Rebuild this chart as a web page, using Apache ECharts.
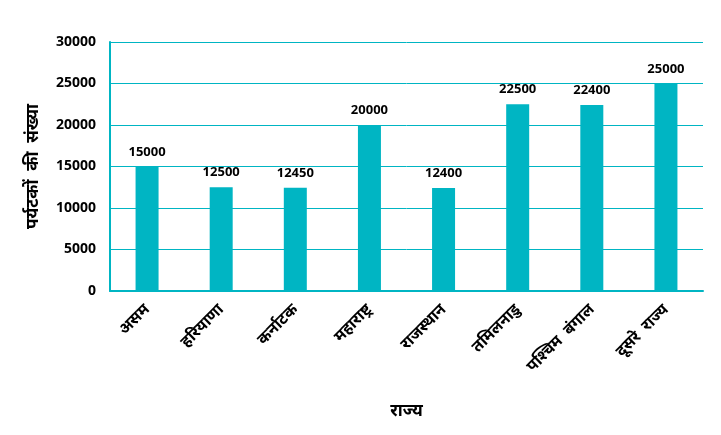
<!DOCTYPE html>
<html><head><meta charset="utf-8">
<script src="https://cdn.jsdelivr.net/npm/echarts@6/dist/echarts.min.js"></script>
<style>html,body{margin:0;padding:0;background:#fff}#c{width:721px;height:435px}</style>
</head><body><div id="c"></div>
<script>
const categories = ['असम','हरियाणा','कर्नाटक','महाराष्ट्र','राजस्थान','तमिलनाडु','पश्चिम  बंगाल','दूसरे  राज्य'];
const values = [15000,12500,12450,20000,12400,22500,22400,25000];
const yTicks = [0,5000,10000,15000,20000,25000,30000];
const teal = '#00B5C3';
const chart = echarts.init(document.getElementById('c'));
chart.setOption({
  animation:false,
  textStyle:{fontFamily:'Noto Sans, sans-serif'},
  grid:{left:110,right:18,top:42,bottom:144,containLabel:false},
  xAxis:{type:'category',data:categories,
    name:'राज्य',nameLocation:'middle',nameGap:112,
    nameTextStyle:{fontSize:17,fontWeight:'bold',color:'#000'},
    axisLine:{lineStyle:{color:teal,width:2}},axisTick:{show:false},
    axisLabel:{rotate:45,fontSize:16,fontWeight:'bold',color:'#000',margin:16,interval:0}},
  yAxis:{type:'value',min:yTicks[0],max:yTicks[yTicks.length-1],interval:5000,
    name:'पर्यटकों  की  संख्या',nameLocation:'middle',nameGap:68,nameRotate:90,
    nameTextStyle:{fontSize:17,fontWeight:'bold',color:'#000'},
    axisLine:{show:true,lineStyle:{color:teal,width:2}},axisTick:{show:false},
    axisLabel:{fontSize:14,fontWeight:'bold',color:'#000',margin:14,formatter:v=>String(v)},
    splitLine:{lineStyle:{color:teal,width:1}}},
  series:[{type:'bar',data:values,barWidth:23,itemStyle:{color:teal},
    label:{show:true,position:'top',distance:8,fontSize:13,fontWeight:'bold',color:'#000'}}]
});
</script></body></html>
